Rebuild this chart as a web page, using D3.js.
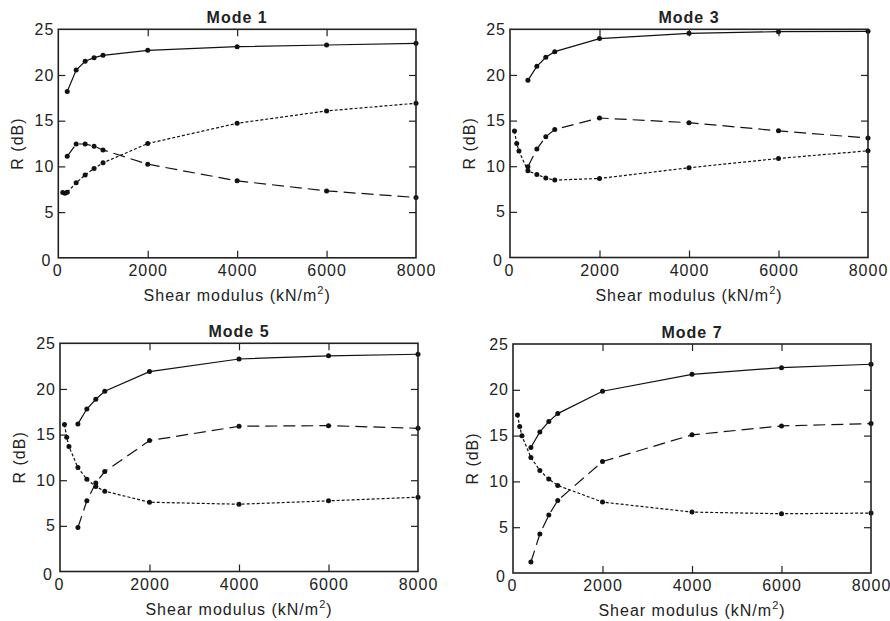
<!DOCTYPE html>
<html>
<head>
<meta charset="utf-8">
<script src="https://cdn.jsdelivr.net/npm/d3@7"></script>
<style>
  html, body { margin: 0; padding: 0; background: #fff; }
  svg text { font-family: "Liberation Sans", Arial, Helvetica, sans-serif; fill: #222; }
</style>
</head>
<body>
<svg id="chart" width="890" height="621"></svg>
<script>
// ---------- data ----------
const shearModulus = [100, 150, 200, 400, 600, 800, 1000, 2000, 4000, 6000, 8000];
const xTicks = [0, 2000, 4000, 6000, 8000];
const yTicks = [0, 5, 10, 15, 20, 25];
const modeTitles = ["Mode 1", "Mode 3", "Mode 5", "Mode 7"];

const mode1Solid  = [null, null, 18.2, 20.55, 21.5, 21.9, 22.15, 22.7, 23.1, 23.28, 23.47];
const mode1Dashed = [null, null, 11.1, 12.45, 12.45, 12.2, 11.8, 10.24, 8.42, 7.32, 6.6];
const mode1Dotted = [7.14, 7.07, 7.18, 8.2, 9.07, 9.77, 10.39, 12.5, 14.72, 16.07, 16.91];

const mode3Solid  = [null, null, null, 19.41, 20.94, 21.93, 22.55, 23.98, 24.56, 24.74, 24.78];
const mode3Dashed = [null, null, null, 9.94, 11.88, 13.23, 14.03, 15.28, 14.77, 13.88, 13.08];
const mode3Dotted = [13.85, 12.5, 11.66, 9.5, 9.1, 8.7, 8.48, 8.66, 9.83, 10.85, 11.69];

const mode5Solid  = [null, null, null, 16.17, 17.8, 18.87, 19.74, 21.9, 23.28, 23.63, 23.8];
const mode5Dashed = [null, null, null, 4.82, 7.74, 9.7, 10.95, 14.34, 15.91, 15.98, 15.69];
const mode5Dotted = [16.1, 14.7, 13.69, 11.39, 10.1, 9.3, 8.8, 7.59, 7.37, 7.74, 8.14];

const mode7Solid  = [null, null, null, 13.7, 15.4, 16.53, 17.4, 19.84, 21.69, 22.42, 22.79];
const mode7Dashed = [null, null, null, 1.2, 4.25, 6.32, 7.92, 12.17, 15.08, 16.06, 16.31];
const mode7Dotted = [17.26, 15.99, 14.97, 12.61, 11.19, 10.25, 9.56, 7.74, 6.65, 6.47, 6.54];

// ---------- layout ----------
const panelBoxes = [
  { left: 58.3, right: 416, top: 29.3, bottom: 257.8 },
  { left: 510,  right: 868, top: 29.3, bottom: 257.5 },
  { left: 60,   right: 418, top: 343.3, bottom: 571.5 },
  { left: 513,  right: 871, top: 344,  bottom: 573 }
];
const seriesStyles = [
  { dash: null },
  { dash: "12,6" },
  { dash: "3,2" }
];
const panelData = [
  [mode1Solid, mode1Dashed, mode1Dotted],
  [mode3Solid, mode3Dashed, mode3Dotted],
  [mode5Solid, mode5Dashed, mode5Dotted],
  [mode7Solid, mode7Dashed, mode7Dotted]
];

const svg = d3.select("#chart");
const tickLen = 7;
const fontSize = 16;

panelBoxes.forEach((box, pi) => {
  const x = d3.scaleLinear().domain([0, 8000]).range([box.left, box.right]);
  const y = d3.scaleLinear().domain([0, 25]).range([box.bottom, box.top]);
  const g = svg.append("g");

  // data lines
  panelData[pi].forEach((vals, si) => {
    const pts = shearModulus.map((m, i) => ({ m, v: vals[i] })).filter(d => d.v !== null);
    const line = d3.line().x(d => x(d.m)).y(d => y(d.v));
    g.append("path")
      .attr("d", line(pts))
      .attr("fill", "none")
      .attr("stroke", "#111")
      .attr("stroke-width", 1.2)
      .attr("stroke-dasharray", seriesStyles[si].dash);
    g.selectAll(null).data(pts).enter().append("circle")
      .attr("cx", d => x(d.m))
      .attr("cy", d => y(d.v))
      .attr("r", 2.5)
      .attr("fill", "#111");
  });

  // axes via d3 axis (inward ticks)
  const axStyle = sel => {
    sel.select(".domain").remove();
    sel.selectAll(".tick line").attr("stroke", "#222").attr("stroke-width", 1.2);
  };
  const bottomAx = g.append("g").attr("transform", `translate(0,${box.bottom})`)
    .call(d3.axisBottom(x).tickValues(xTicks).tickSize(-tickLen).tickPadding(7).tickFormat(d3.format("d")));
  const topAx = g.append("g").attr("transform", `translate(0,${box.top})`)
    .call(d3.axisTop(x).tickValues(xTicks.slice(1, -1)).tickSize(-tickLen).tickFormat(""));
  const leftAx = g.append("g").attr("transform", `translate(${box.left},0)`)
    .call(d3.axisLeft(y).tickValues(yTicks).tickSize(-tickLen).tickPadding(4).tickFormat(d3.format("d")));
  const rightAx = g.append("g").attr("transform", `translate(${box.right},0)`)
    .call(d3.axisRight(y).tickValues(yTicks.slice(1, -1)).tickSize(-tickLen).tickFormat(""));
  [bottomAx, topAx, leftAx, rightAx].forEach(a => {
    axStyle(a);
    a.selectAll(".tick text")
      .attr("font-size", fontSize)
      .attr("letter-spacing", "1px")
      .attr("fill", "#222")
      .style("font-family", "'Liberation Sans', Arial, sans-serif");
  });
  leftAx.selectAll(".tick text").filter(d => d === 0).attr("dy", "0.5em").attr("dx", -3);
  bottomAx.selectAll(".tick text").filter(d => d === 0).attr("dx", -1);
  leftAx.selectAll(".tick line").filter(d => d === 0 || d === 25).remove();
  bottomAx.selectAll(".tick line").filter(d => d === 0 || d === 8000).remove();

  // frame
  g.append("rect")
    .attr("x", box.left).attr("y", box.top)
    .attr("width", box.right - box.left).attr("height", box.bottom - box.top)
    .attr("fill", "none").attr("stroke", "#222").attr("stroke-width", 1.6);

  const cx = (box.left + box.right) / 2;
  // title
  g.append("text")
    .attr("x", cx).attr("y", box.top - 6)
    .attr("text-anchor", "middle")
    .attr("font-size", fontSize).attr("font-weight", "bold")
    .attr("letter-spacing", "1px")
    .text(modeTitles[pi]);

  // x label
  const xl = g.append("text")
    .attr("x", cx).attr("y", box.bottom + 43)
    .attr("text-anchor", "middle")
    .attr("font-size", fontSize)
    .attr("letter-spacing", "1px");
  xl.append("tspan").text("Shear modulus (kN/m");
  xl.append("tspan").attr("font-size", 11).attr("dy", -7).text("2");
  xl.append("tspan").attr("dy", 7).text(")");

  // y label
  g.append("text")
    .attr("transform", `translate(${box.left - 35},${(box.top + box.bottom) / 2}) rotate(-90)`)
    .attr("text-anchor", "middle")
    .attr("font-size", fontSize)
    .attr("letter-spacing", "1px")
    .text("R (dB)");
});
</script>
</body>
</html>
